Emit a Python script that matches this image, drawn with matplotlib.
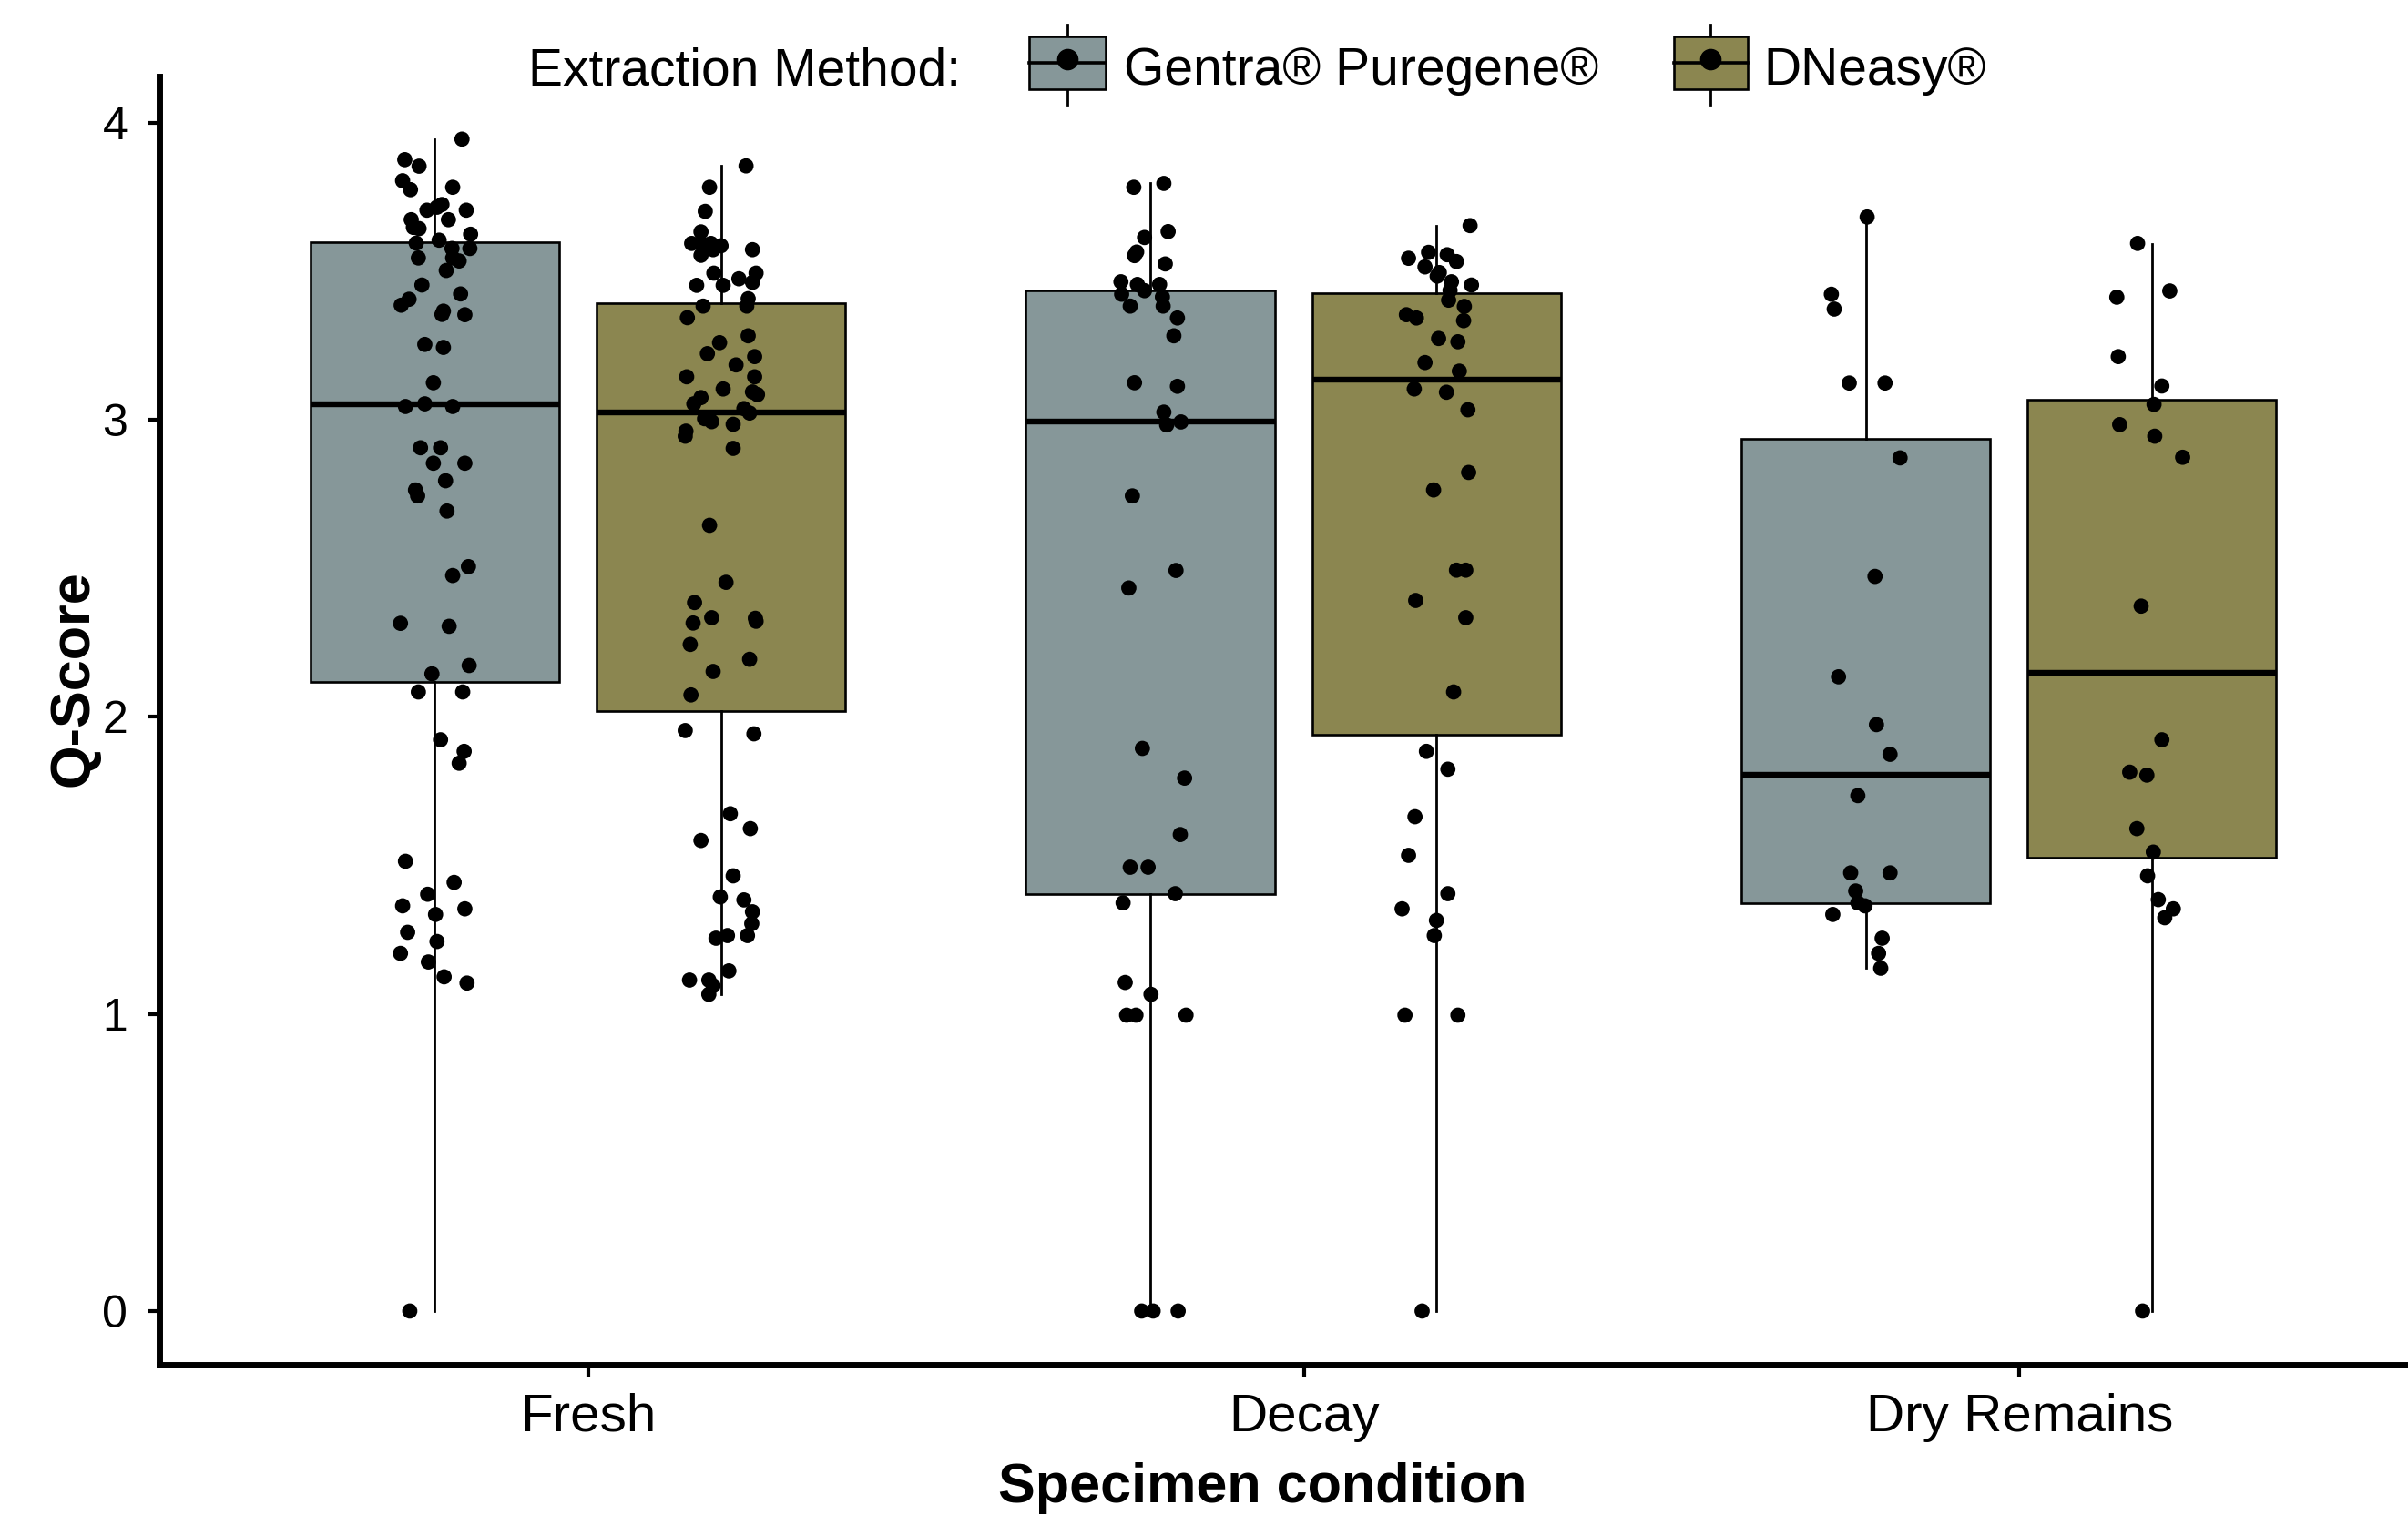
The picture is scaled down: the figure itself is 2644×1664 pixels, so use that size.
import numpy as np
import matplotlib.pyplot as plt
from matplotlib.patches import Rectangle
from matplotlib.lines import Line2D

plt.rcParams['font.family'] = ['Liberation Sans', 'DejaVu Sans']

conditions = ["Fresh", "Decay", "Dry Remains"]
methods = ["Gentra® Puregene®", "DNeasy®"]
colors = ["#869799", "#8b8650"]

# box stats: (whislo, q1, med, q3, whishi)
box_gentra = [(0.0, 2.117, 3.054, 3.597, 3.943),
              (0.0, 1.405, 2.994, 3.435, 3.796),
              (1.154, 1.372, 1.804, 2.936, 3.683)]
box_dneasy = [(1.066, 2.020, 3.025, 3.394, 3.855),
              (0.0, 1.940, 3.135, 3.428, 3.652),
              (0.0, 1.525, 2.149, 3.068, 3.593)]

# points: q-score and horizontal jitter
fresh_gentra_q = [3.945, 3.876, 3.854, 3.805, 3.775, 3.783, 3.706, 3.725, 3.716, 3.706,
                  3.674, 3.674, 3.648, 3.644, 3.625, 3.605, 3.595, 3.577, 3.577, 3.545,
                  3.535, 3.545, 3.503, 3.454, 3.424, 3.406, 3.386, 3.366, 3.355, 3.354,
                  3.254, 3.244, 3.125, 3.045, 3.054, 3.045, 2.906, 2.906, 2.854, 2.854,
                  2.795, 2.764, 2.744, 2.693, 2.506, 2.476, 2.315, 2.305, 2.173, 2.145,
                  2.084, 2.084, 1.923, 1.884, 1.844, 1.514, 1.443, 1.403, 1.364, 1.354,
                  1.335, 1.275, 1.244, 1.204, 1.175, 1.125, 1.104, 0.0]
fresh_gentra_j = [0.038, -0.042, -0.022, -0.045, -0.034, 0.025, -0.011, 0.010, 0.003, 0.044,
                  -0.033, 0.019, -0.030, -0.022, 0.050, 0.006, -0.026, 0.049, 0.024, 0.025,
                  0.034, -0.023, 0.016, -0.018, 0.036, -0.036, -0.047, 0.012, 0.010, 0.042,
                  -0.014, 0.012, -0.002, -0.041, -0.014, 0.025, -0.020, 0.008, -0.002, 0.042,
                  0.015, -0.027, -0.024, 0.017, 0.047, 0.025, -0.048, 0.020, 0.048, -0.004,
                  -0.023, 0.039, 0.008, 0.041, 0.034, -0.041, 0.027, -0.010, -0.045, 0.042,
                  0.001, -0.038, 0.003, -0.048, -0.009, 0.013, 0.045, -0.035]

fresh_dneasy_q = [3.855, 3.783, 3.702, 3.633, 3.594, 3.594, 3.594, 3.586, 3.573, 3.573,
                  3.554, 3.494, 3.494, 3.475, 3.463, 3.453, 3.453, 3.408, 3.383, 3.383,
                  3.344, 3.283, 3.260, 3.223, 3.185, 3.213, 3.145, 3.145, 3.104, 3.094,
                  3.085, 3.075, 3.054, 3.038, 3.023, 3.004, 2.994, 2.985, 2.962, 2.945,
                  2.904, 2.645, 2.453, 2.385, 2.316, 2.334, 2.332, 2.322, 2.244, 2.194,
                  2.153, 2.074, 1.954, 1.943, 1.674, 1.624, 1.584, 1.465, 1.394, 1.384,
                  1.344, 1.304, 1.264, 1.264, 1.255, 1.145, 1.114, 1.114, 1.095, 1.066]
fresh_dneasy_j = [0.035, -0.016, -0.022, -0.028, -0.041, -0.028, -0.014, 0.000, -0.011, 0.044,
                  -0.028, -0.010, 0.049, 0.025, 0.044, -0.034, 0.003, 0.038, 0.036, -0.025,
                  -0.047, 0.038, -0.002, -0.019, 0.021, 0.047, -0.048, 0.047, 0.003, 0.044,
                  0.051, -0.028, -0.038, 0.032, 0.040, -0.023, -0.013, 0.017, -0.049, -0.050,
                  0.017, -0.016, 0.007, -0.037, -0.039, -0.013, 0.048, 0.049, -0.043, 0.040,
                  -0.011, -0.042, -0.050, 0.046, 0.013, 0.041, -0.028, 0.017, -0.001, 0.032,
                  0.044, 0.043, 0.009, 0.037, -0.007, 0.011, -0.044, -0.017, -0.011, -0.017]

decay_gentra_q = [3.783, 3.796, 3.614, 3.634, 3.565, 3.553, 3.525, 3.465, 3.456, 3.456,
                  3.423, 3.435, 3.414, 3.383, 3.383, 3.343, 3.283, 3.125, 3.113, 3.026,
                  2.983, 2.993, 2.744, 2.493, 2.434, 1.894, 1.794, 1.604, 1.494, 1.494,
                  1.405, 1.374, 1.106, 1.066, 0.996, 0.996, 0.996, 0.0, 0.0, 0.0]
decay_gentra_j = [-0.023, 0.019, -0.008, 0.025, -0.019, -0.022, 0.021, -0.041, -0.018, 0.013,
                  -0.040, -0.008, 0.017, 0.018, -0.028, 0.038, 0.033, -0.022, 0.038, 0.019,
                  0.023, 0.043, -0.025, 0.036, -0.030, -0.011, 0.048, 0.042, -0.028, -0.003,
                  0.035, -0.038, -0.035, 0.001, -0.033, -0.020, 0.050, -0.012, 0.004, 0.039]

decay_dneasy_q = [3.654, 3.544, 3.564, 3.556, 3.533, 3.515, 3.496, 3.484, 3.465, 3.454,
                  3.436, 3.403, 3.382, 3.354, 3.343, 3.334, 3.274, 3.263, 3.193, 3.164,
                  3.104, 3.093, 3.034, 2.823, 2.764, 2.494, 2.494, 2.392, 2.334, 2.084,
                  1.884, 1.824, 1.664, 1.534, 1.405, 1.354, 1.315, 1.264, 0.996, 0.996, 0.0]
decay_dneasy_j = [0.047, -0.039, -0.011, 0.015, 0.028, -0.016, 0.004, 0.001, 0.021, 0.049,
                  0.019, 0.017, 0.039, -0.042, -0.028, 0.038, 0.003, 0.030, -0.016, 0.032,
                  -0.031, 0.014, 0.044, 0.045, -0.004, 0.028, 0.041, -0.029, 0.041, 0.024,
                  -0.014, 0.016, -0.030, -0.039, 0.016, -0.048, 0.000, -0.003, -0.044, 0.030, -0.020]

dry_gentra_q = [3.683, 3.423, 3.373, 3.124, 3.124, 2.872, 2.473, 2.135, 1.974, 1.874,
                1.735, 1.475, 1.475, 1.414, 1.374, 1.364, 1.335, 1.255, 1.204, 1.154]
dry_gentra_j = [0.002, -0.048, -0.044, -0.023, 0.027, 0.048, 0.013, -0.038, 0.015, 0.034,
                -0.011, -0.021, 0.034, -0.014, -0.011, -0.001, -0.046, 0.023, 0.018, 0.021]

dry_dneasy_q = [3.594, 3.413, 3.434, 3.213, 3.114, 3.052, 2.984, 2.945, 2.874, 2.373,
                1.923, 1.814, 1.804, 1.624, 1.545, 1.465, 1.385, 1.354, 1.324, 0.0]
dry_dneasy_j = [-0.020, -0.049, 0.025, -0.047, 0.014, 0.003, -0.045, 0.004, 0.043, -0.015,
                0.014, -0.031, -0.007, -0.021, 0.002, -0.006, 0.009, 0.030, 0.018, -0.013]

points_gentra = [(fresh_gentra_q, fresh_gentra_j), (decay_gentra_q, decay_gentra_j),
                 (dry_gentra_q, dry_gentra_j)]
points_dneasy = [(fresh_dneasy_q, fresh_dneasy_j), (decay_dneasy_q, decay_dneasy_j),
                 (dry_dneasy_q, dry_dneasy_j)]

W, H = 2644, 1664
fig = plt.figure(figsize=(W / 100, H / 100), dpi=100)
ax = fig.add_axes([175 / W, 1 - 1499 / H, 1 - 175 / W, (1499 - 84) / H])

cat_x = np.arange(1, len(conditions) + 1)
dodge = 0.2
width = 0.348

for m, (boxes, pts) in enumerate([(box_gentra, points_gentra), (box_dneasy, points_dneasy)]):
    offset = -dodge if m == 0 else dodge
    stats = []
    for lo, q1, med, q3, hi in boxes:
        stats.append(dict(whislo=lo, q1=q1, med=med, q3=q3, whishi=hi))
    ax.bxp(stats, positions=cat_x + offset, widths=width, patch_artist=True,
           showcaps=False, showfliers=False,
           boxprops=dict(facecolor=colors[m], edgecolor="black", linewidth=1.9),
           whiskerprops=dict(color="black", linewidth=2.0),
           medianprops=dict(color="black", linewidth=4.6, solid_capstyle="butt"),
           zorder=2)
    for i, (q, j) in enumerate(pts):
        xs = cat_x[i] + offset + np.array(j)
        ax.scatter(xs, q, s=145, color="black", edgecolors="none", zorder=3)

ax.set_xlim(0.415, 3.558)
ax.set_ylim(-0.181, 4.156)
# tick marks sit a touch right of the box pairs in the original
ax.set_xticks(cat_x + 0.015)
ax.set_xticklabels(conditions, fontsize=42)
ax.set_yticks([0, 1, 2, 3, 4])
ax.set_yticklabels(["0", "1", "2", "3", "4"], fontsize=36)
ax.tick_params(axis="both", direction="out", length=9, width=3, color="black")
ax.tick_params(axis="y", pad=16)
ax.tick_params(axis="x", pad=13)
for s in ["top", "right"]:
    ax.spines[s].set_visible(False)
for s in ["left", "bottom"]:
    ax.spines[s].set_linewidth(5)

fig.text(1386 / W, 1 / H, "Specimen condition", fontsize=44, fontweight="bold",
         ha="center", va="bottom")
fig.text(81 / W, 1 - 745 / H, "Q-Score", fontsize=44, fontweight="bold",
         ha="center", va="center", rotation=90)

# legend at the top
def fx(x):
    return x / W

def fy(y):
    return 1 - y / H

fig.text(fx(580), fy(78), "Extraction Method:", fontsize=41, ha="left", va="center")
keys = [(1130, 1214, 1234), (1838, 1919, 1936)]
for m, (x0, x1, tx) in enumerate(keys):
    xc = (x0 + x1) / 2
    fig.add_artist(Line2D([fx(xc), fx(xc)], [fy(27), fy(115)], color="black", linewidth=2.0,
                          transform=fig.transFigure, zorder=1))
    fig.add_artist(Rectangle((fx(x0), fy(98)), fx(x1) - fx(x0), fy(40) - fy(98),
                             facecolor=colors[m], edgecolor="black", linewidth=1.9,
                             transform=fig.transFigure, zorder=2))
    fig.add_artist(Line2D([fx(x0), fx(x1)], [fy(69), fy(69)], color="black", linewidth=2.6,
                          transform=fig.transFigure, zorder=3))
    fig.add_artist(Line2D([fx(xc)], [fy(65)], marker="o", markersize=16, color="black",
                          linestyle="none", transform=fig.transFigure, zorder=4))
    fig.text(fx(tx), fy(78), methods[m], fontsize=41, ha="left", va="center")

fig.savefig("out.png", dpi=100)
